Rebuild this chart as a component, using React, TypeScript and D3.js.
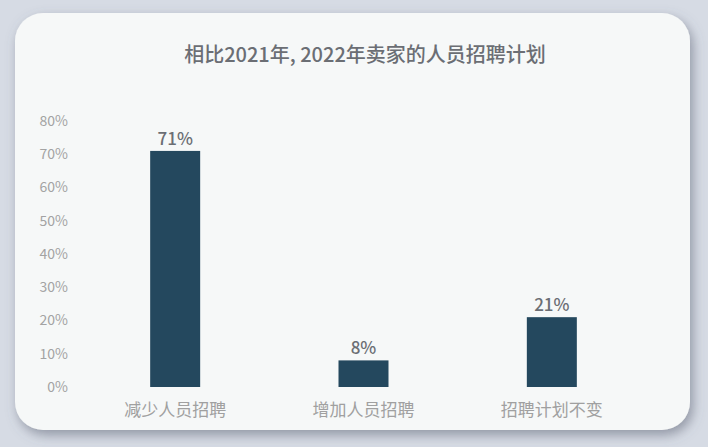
import React from "react";
import * as d3 from "d3";

const categories = ["减少人员招聘", "增加人员招聘", "招聘计划不变"];
const values = [71, 8, 21];
const yTicks = [0, 10, 20, 30, 40, 50, 60, 70, 80];
const title = "相比2021年, 2022年卖家的人员招聘计划";

const W = 708;
const H = 447;
const FONT = "'Noto Sans CJK SC', 'Noto Sans', sans-serif";

export default function App() {
  const x = d3.scaleBand<string>().domain(categories).range([81, 646]).paddingInner(0.735).paddingOuter(0.3675);
  const y = d3.scaleLinear().domain([0, 80]).range([387, 121]);
  const bw = 50;

  return (
    <div style={{ position: "fixed", left: 0, top: 0, width: W, height: H }}>
      <svg width={W} height={H} style={{ display: "block" }}>
        <defs>
          <filter id="sh" x="-10%" y="-10%" width="125%" height="130%">
            <feDropShadow dx="3" dy="5" stdDeviation="6" floodColor="#5a6070" floodOpacity="0.55" />
          </filter>
        </defs>
        <rect x={0} y={0} width={W} height={H} fill="#d6dbe4" />
        <rect x={15} y={13} width={675} height={417} rx={28} ry={28} fill="#f6f8f8" filter="url(#sh)" />
        <text x={365} y={62} textAnchor="middle" fontFamily={FONT} fontSize={20} fontWeight={500} fill="#6b6e74">
          {title}
        </text>
        {yTicks.map((t) => (
          <text key={t} x={68} y={y(t)} dy="0.35em" textAnchor="end" fontFamily={FONT} fontSize={14} fill="#a3a3a3">
            {t}%
          </text>
        ))}
        {categories.map((c, i) => {
          const cx = (x(c) as number) + x.bandwidth() / 2;
          return (
            <g key={c}>
              <rect x={cx - bw / 2} y={y(values[i])} width={bw} height={y(0) - y(values[i])} fill="#24485e" />
              <text x={cx} y={y(values[i]) - 6} textAnchor="middle" fontFamily={FONT} fontSize={17} fontWeight={500} fill="#6b6e74">
                {values[i]}%
              </text>
              <text x={cx} y={416} textAnchor="middle" fontFamily={FONT} fontSize={17} fill="#a0a0a0">
                {c}
              </text>
            </g>
          );
        })}
      </svg>
    </div>
  );
}
